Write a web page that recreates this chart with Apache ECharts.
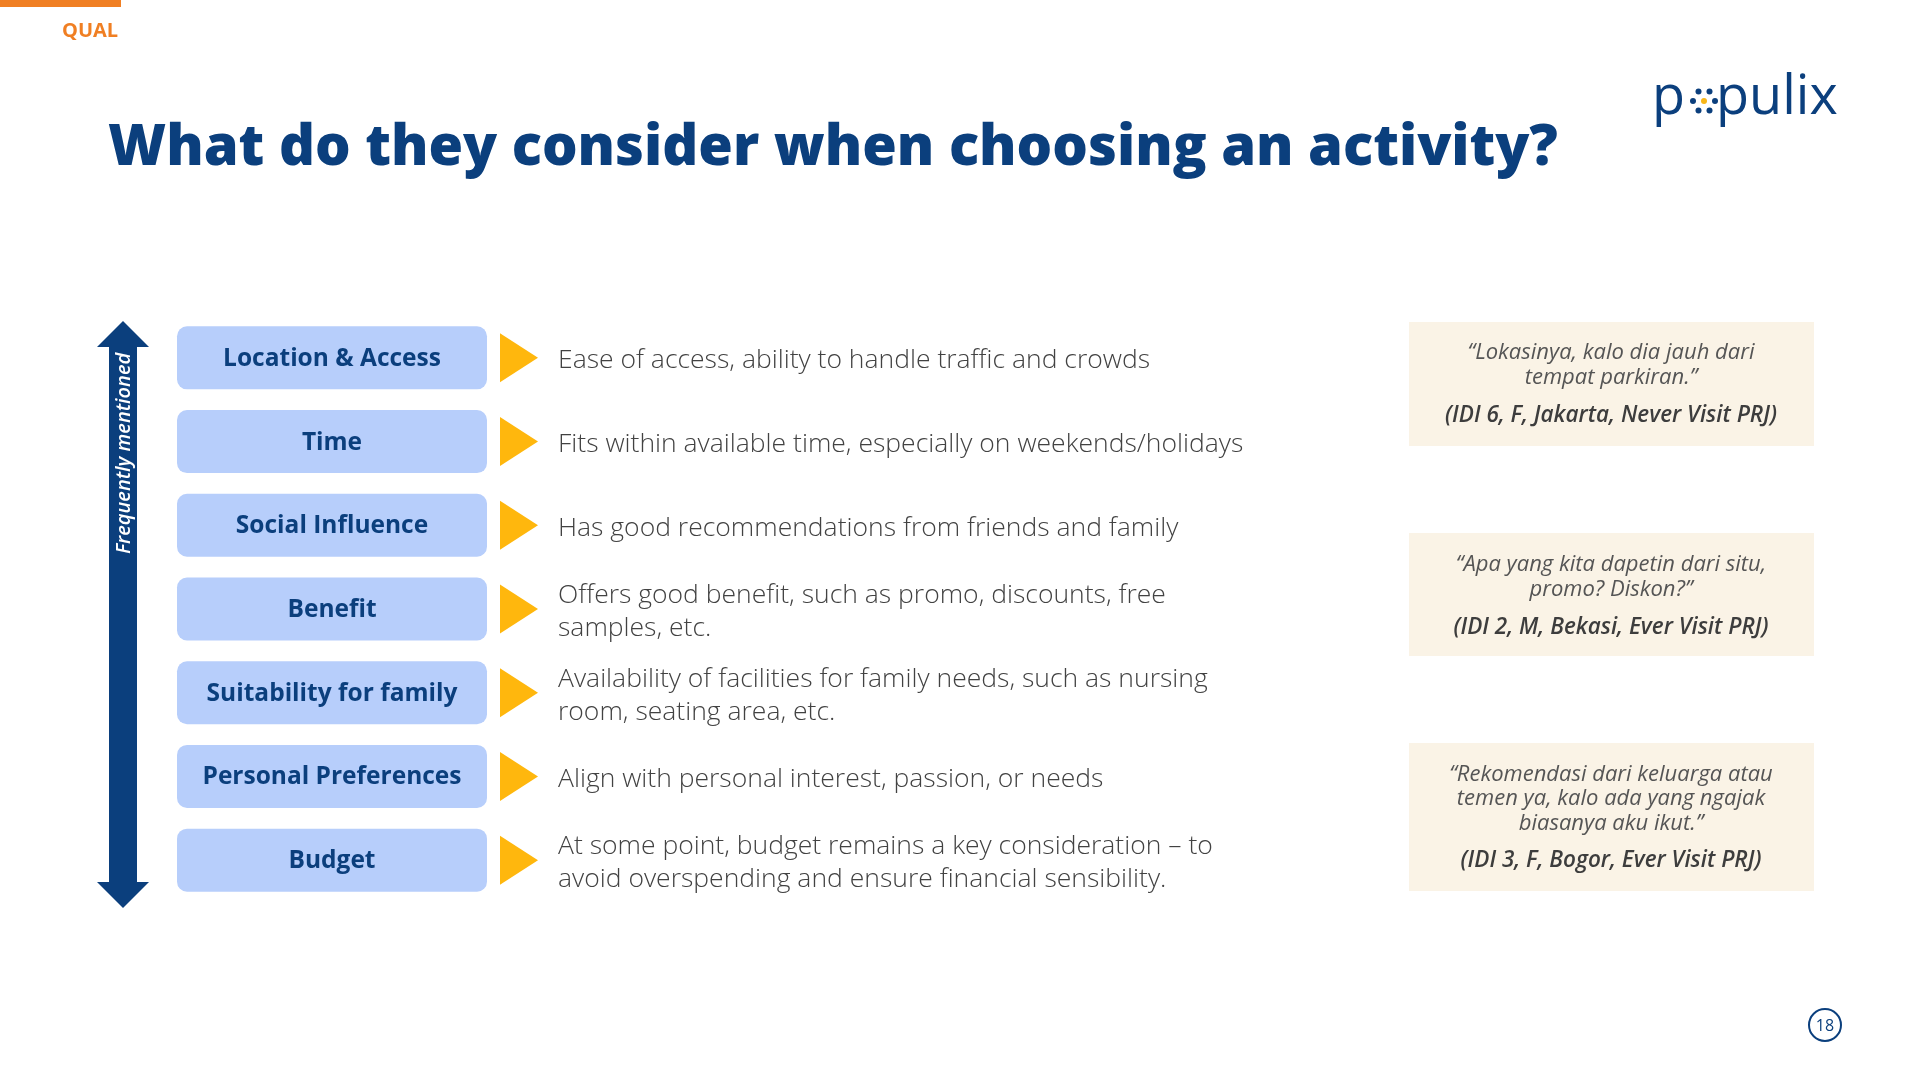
<!DOCTYPE html>
<html>
<head>
<meta charset="utf-8">
<script src="https://cdn.jsdelivr.net/npm/echarts@6/dist/echarts.min.js"></script>
<style>
  html, body { margin: 0; padding: 0; background: #fff; }
  #chart { width: 1920px; height: 1080px; }
</style>
</head>
<body>
<div id="chart"></div>
<script>
var factors = ['Location & Access', 'Time', 'Social Influence', 'Benefit', 'Suitability for family', 'Personal Preferences', 'Budget'];
var descriptions = [
  ['Ease of access, ability to handle traffic and crowds'],
  ['Fits within available time, especially on weekends/holidays'],
  ['Has good recommendations from friends and family'],
  ['Offers good benefit, such as promo, discounts, free', 'samples, etc.'],
  ['Availability of facilities for family needs, such as nursing', 'room, seating area, etc.'],
  ['Align with personal interest, passion, or needs'],
  ['At some point, budget remains a key consideration \u2013 to', 'avoid overspending and ensure financial sensibility.']
];
var quotes = [
  ['\u201cLokasinya, kalo dia jauh dari', 'tempat parkiran.\u201d'],
  ['\u201cApa yang kita dapetin dari situ,', 'promo? Diskon?\u201d'],
  ['\u201cRekomendasi dari keluarga atau', 'temen ya, kalo ada yang ngajak', 'biasanya aku ikut.\u201d']
];
var sources = ['(IDI 6, F, Jakarta, Never Visit PRJ)', '(IDI 2, M, Bekasi, Ever Visit PRJ)', '(IDI 3, F, Bogor, Ever Visit PRJ)'];
var title = 'What do they consider when choosing an activity?';
var pageNo = '18';

var navy = '#0b3f7d';
var sans = '"Open Sans", "Noto Sans", sans-serif';

// quote box layout: [top, bottom, quote centre y, source centre y]
var quoteLayout = [[322, 446, 365, 416], [533, 656, 577, 628], [743, 891, 799, 861]];

var graphics = [
  { type: 'rect', shape: { x: 0, y: 0, width: 121, height: 7 }, style: { fill: '#f07f23' } },
  { type: 'text', x: 62, y: 41.5, style: { text: 'QUAL', fill: '#f07f23', font: 'bold 20px ' + sans, verticalAlign: 'bottom' } },
  { type: 'text', x: 108, y: 177, style: { text: title, fill: navy, font: '800 56px ' + sans, verticalAlign: 'bottom' } },
  // logo
  { type: 'text', x: 1652, y: 126, style: { text: 'p', fill: navy, font: '500 54px ' + sans, verticalAlign: 'bottom' } },
  { type: 'text', x: 1716, y: 126, style: { text: 'pulix', fill: navy, font: '500 54px ' + sans, verticalAlign: 'bottom' } },
  { type: 'circle', shape: { cx: 1704, cy: 101, r: 3 }, style: { fill: '#f8b617' } },
  // arrow
  { type: 'polygon', shape: { points: [[123, 321], [149, 347], [137, 347], [137, 882], [149, 882], [123, 908], [97, 882], [109, 882], [109, 347], [97, 347]] }, style: { fill: navy } },
  { type: 'text', x: 124, y: 554, rotation: Math.PI / 2, style: { text: 'Frequently mentioned', fill: '#fff', font: 'italic 600 20px ' + sans, align: 'left', verticalAlign: 'middle' } },
  // page number
  { type: 'circle', shape: { cx: 1825, cy: 1025, r: 16 }, style: { fill: 'none', stroke: navy, lineWidth: 2 } },
  { type: 'text', x: 1825, y: 1026, style: { text: pageNo, fill: navy, font: '16px ' + sans, align: 'center', verticalAlign: 'middle' } }
];
[[-11, 0], [11, 0], [-5.5, -9.5], [5.5, -9.5], [-5.5, 9.5], [5.5, 9.5]].forEach(function(d) {
  graphics.push({ type: 'circle', shape: { cx: 1704 + d[0], cy: 101 + d[1], r: 3 }, style: { fill: navy } });
});
quotes.forEach(function(q, i) {
  var l = quoteLayout[i];
  graphics.push({ type: 'rect', shape: { x: 1409, y: l[0], width: 405, height: l[1] - l[0] }, style: { fill: '#faf3e6' } });
  graphics.push({ type: 'text', x: 1611, y: l[2], style: { text: q.join('\n'), fill: '#555', font: 'italic 22px ' + sans, lineHeight: 24.5, align: 'center', verticalAlign: 'middle' } });
  graphics.push({ type: 'text', x: 1611, y: l[3], style: { text: sources[i], fill: '#3d3d3d', font: 'italic 600 22.5px ' + sans, align: 'center', verticalAlign: 'middle' } });
});

var chart = echarts.init(document.getElementById('chart'), null, { renderer: 'canvas' });
chart.setOption({
  animation: false,
  grid: { left: 0, right: 0, top: 316, height: 586 },
  xAxis: { type: 'value', min: 0, max: 1, show: false },
  yAxis: { type: 'category', data: factors, inverse: true, show: false },
  graphic: graphics,
  series: [{
    type: 'custom',
    data: factors.map(function(f, i) { return [0, i]; }),
    renderItem: function(params, api) {
      var i = api.value(1);
      var y = api.coord([0, i])[1];
      return {
        type: 'group',
        children: [
          { type: 'rect', shape: { x: 177, y: y - 31.5, width: 310, height: 63, r: 10 }, style: { fill: '#b7cefb' } },
          { type: 'text', x: 332, y: y + 1, style: { text: factors[i], fill: navy, font: 'bold 24.5px ' + sans, align: 'center', verticalAlign: 'middle' } },
          { type: 'polygon', shape: { points: [[500, y - 24.5], [538, y], [500, y + 24.5]] }, style: { fill: '#ffb70d' } },
          { type: 'text', x: 558, y: y + 3, style: { text: descriptions[i].join('\n'), fill: '#424242', font: '300 26.5px ' + sans, lineHeight: 33, align: 'left', verticalAlign: 'middle' } }
        ]
      };
    }
  }]
});
</script>
</body>
</html>
